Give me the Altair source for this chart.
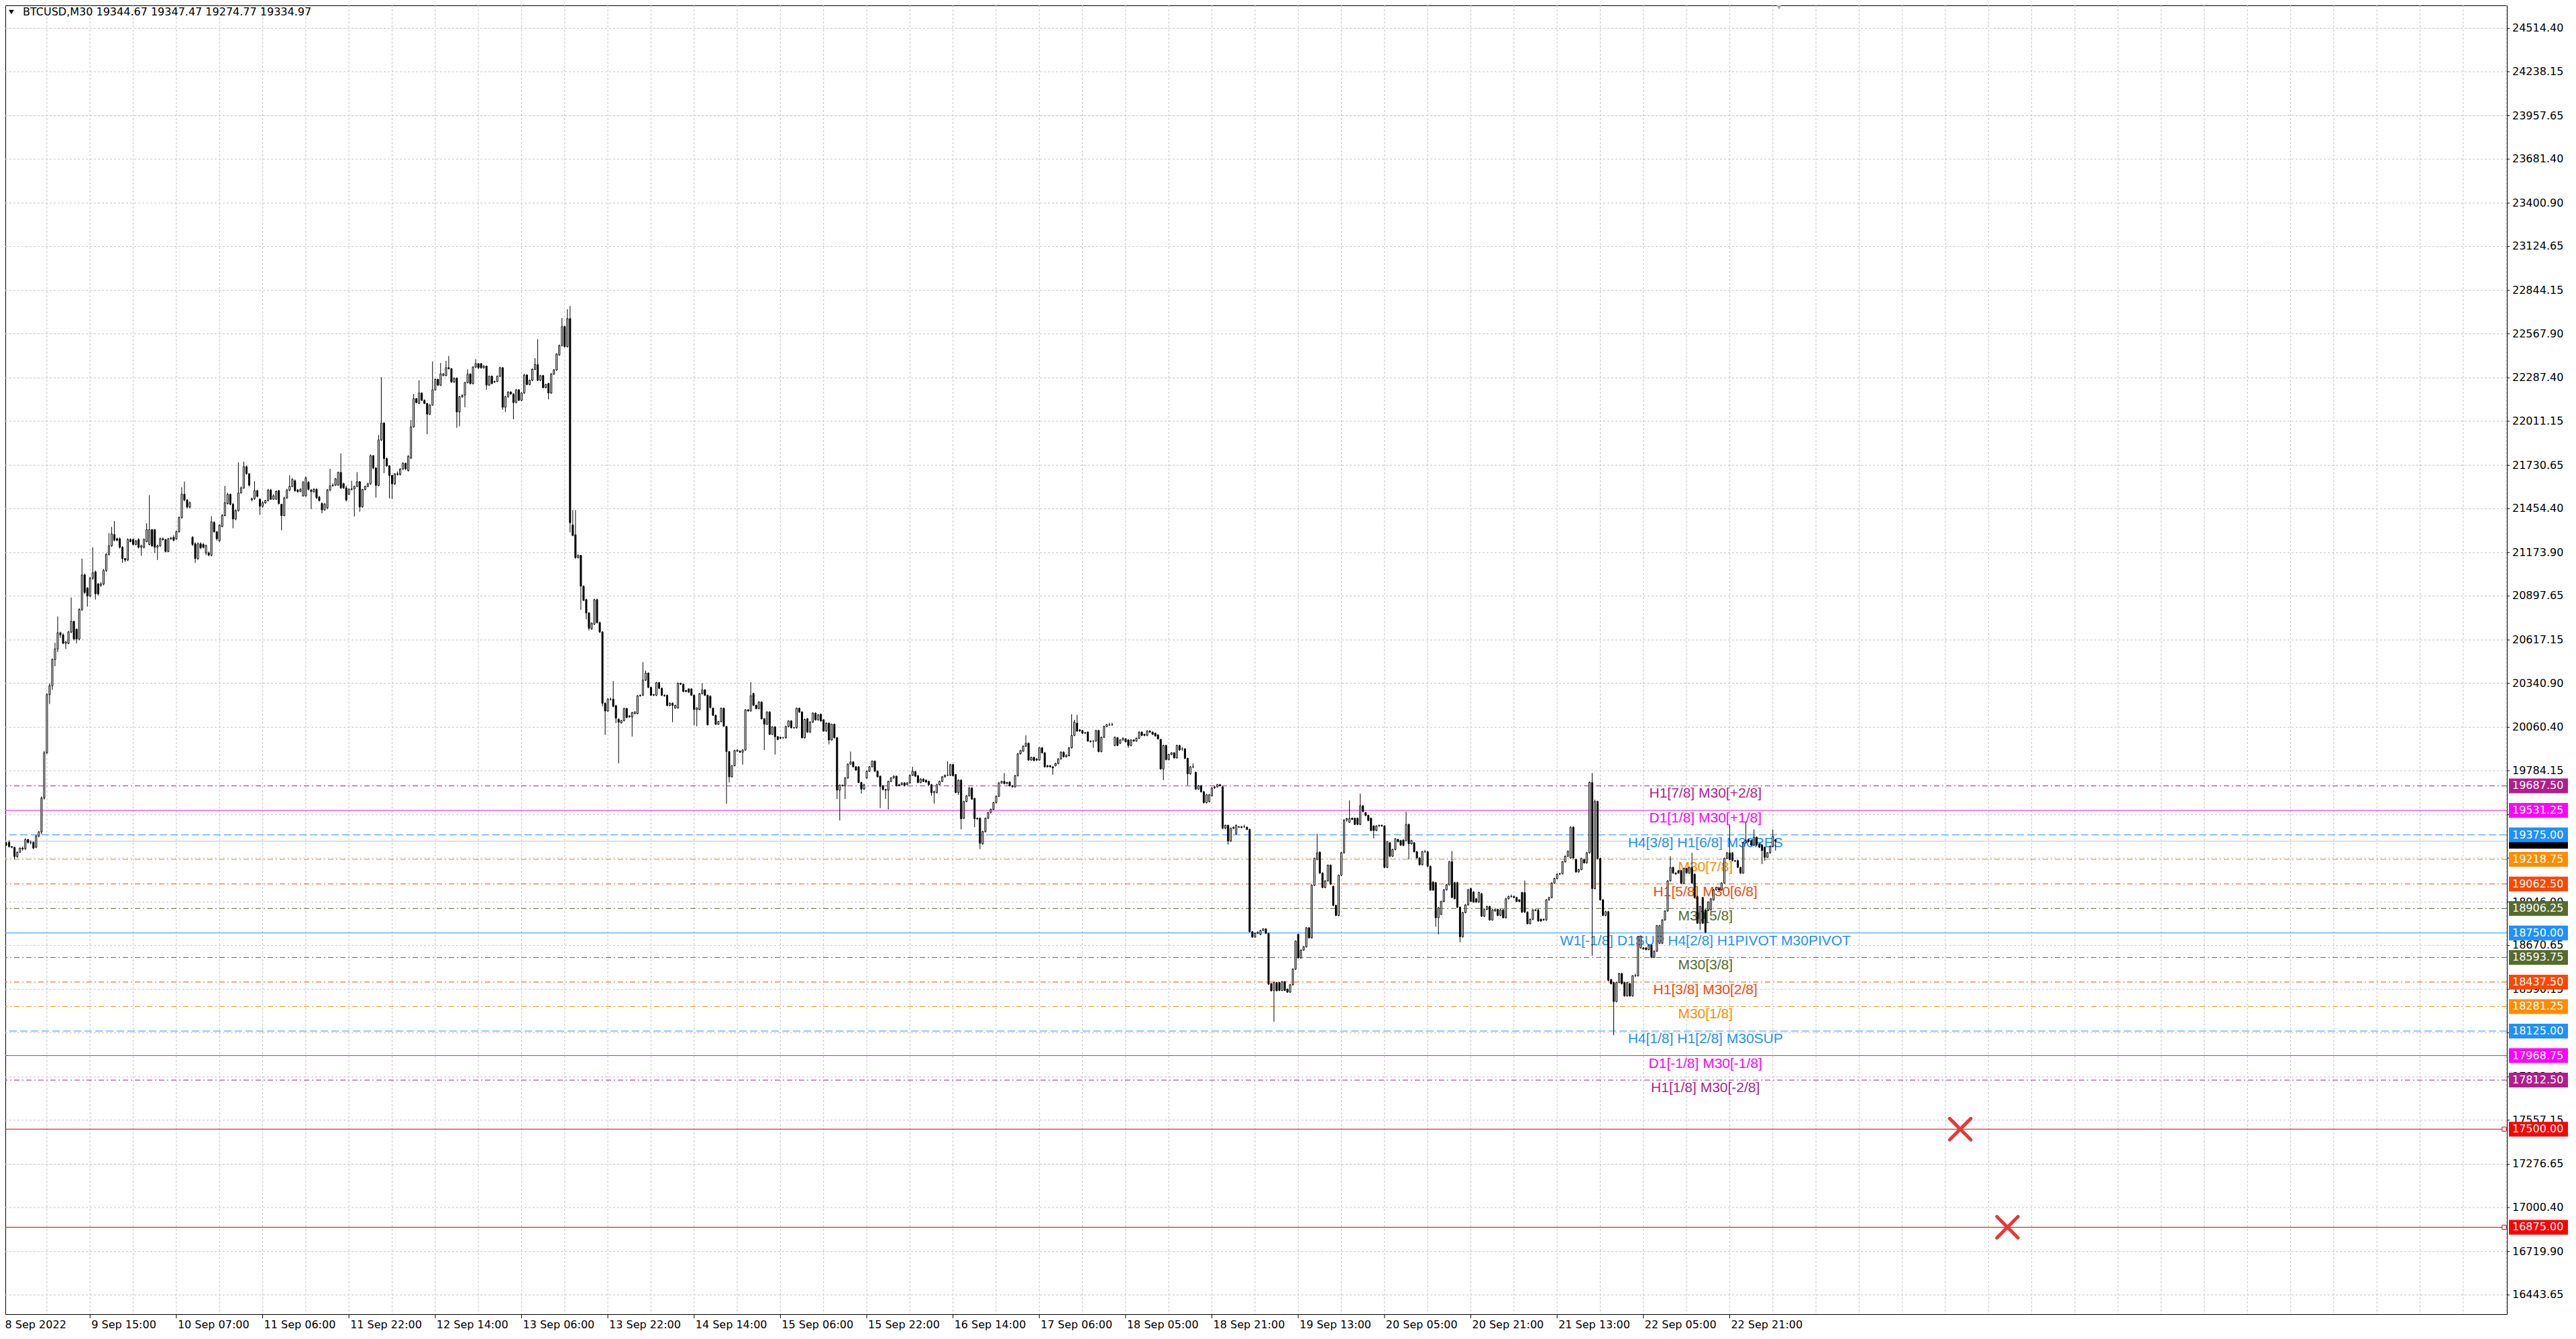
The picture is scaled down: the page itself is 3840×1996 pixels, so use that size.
import altair as alt
import pandas as pd

W, H = 3729, 1951
X_DOMAIN = [0.597, 928.2]
Y_DOMAIN = [16321.0, 24661.0]

title_text = "BTCUSD,M30  19344.67 19347.47 19274.77 19334.97"

# 30-minute bars, rows are (open, close, high, low)
bars_a = [
(19300,19318,19330,19295),(19318,19315,19330,19305),(19327,19300,19340,19295),(19300,19296,19305,19290),
(19296,19237,19300,19219),(19237,19264,19270,19230),(19264,19291,19295,19260),(19291,19286,19300,19275),
(19286,19345,19354,19280),(19345,19327,19350,19320),(19327,19327,19340,19315),(19327,19291,19335,19285),
(19296,19368,19375,19290),(19368,19394,19400,19360),(19394,19610,19620,19380),(19610,19899,19910,19600),
(19899,20268,20280,19890),(20268,20326,20340,20209),(20326,20492,20500,20300),(20492,20560,20600,20450),
(20560,20663,20767,20540),(20663,20650,20670,20630),(20650,20596,20660,20590),(20596,20605,20610,20560),
(20596,20668,20675,20590),(20668,20735,20888,20660),(20735,20623,20740,20615),(20686,20623,20690,20596),
(20623,20812,20820,20615),(20812,21032,21136,20800),(21032,20920,21040,20910),(20947,20897,20955,20830),
(20897,21010,21020,20890),(21010,21046,21208,21000),(21051,20911,21060,20875),(20974,20911,20980,20900),
(20965,20974,20985,20955),(20974,21060,21070,20965),(21060,21163,21170,21050),(21163,21217,21298,21155),
(21217,21293,21338,21210),(21289,21253,21375,21245),(21262,21253,21270,21245),(21262,21208,21270,21200),
(21208,21136,21215,21109),(21136,21127,21140,21115),(21127,21257,21265,21120),(21257,21244,21265,21240),
(21257,21226,21265,21220),(21226,21248,21255,21220),(21257,21208,21265,21200),(21208,21217,21225,21154),
(21208,21257,21265,21200),(21244,21320,21361,21240),(21226,21320,21539,21220),(21320,21217,21325,21210),
(21320,21208,21325,21172),(21208,21217,21225,21127),(21217,21262,21270,21210),(21262,21257,21270,21250),
(21257,21181,21262,21175),(21181,21262,21268,21178),(21262,21266,21275,21255),(21271,21253,21285,21245),
(21262,21307,21315,21255),(21307,21397,21405,21300),(21397,21546,21590,21390),(21546,21509,21626,21500),
(21509,21464,21515,21455),(21464,21491,21500,21455),(21271,21226,21280,21215),(21230,21136,21240,21109),
(21136,21230,21240,21127),(21230,21204,21240,21195),(21226,21208,21235,21200),(21172,21219,21225,21158),
(21172,21158,21180,21150),(21158,21370,21406,21150),(21366,21307,21375,21300),(21307,21262,21310,21250),
(21250,21348,21355,21240),(21340,21410,21420,21335),(21410,21491,21599,21405),(21487,21545,21555,21480),
(21545,21482,21550,21475),(21482,21388,21490,21329),(21388,21442,21450,21380),(21442,21554,21748,21435),
(21554,21586,21595,21550),(21586,21721,21753,21580),(21721,21676,21730,21670),(21676,21604,21680,21595),
(21510,21518,21525,21500),(21518,21568,21629,21510),(21568,21532,21575,21525),(21514,21469,21520,21415),
(21469,21491,21500,21460),(21491,21505,21510,21485),(21505,21572,21580,21500),(21572,21514,21580,21510),
(21514,21536,21545,21510),(21514,21564,21570,21510),(21568,21487,21575,21480),(21482,21410,21485,21316),
(21410,21523,21530,21405),(21523,21572,21580,21515),(21572,21595,21667,21565),(21595,21640,21650,21590),
(21631,21568,21640,21560),(21572,21563,21580,21555),(21563,21577,21585,21560),(21536,21622,21630,21530),
(21536,21649,21660,21530),(21622,21577,21630,21570),(21572,21563,21580,21451),(21563,21577,21585,21555),
(21577,21523,21585,21515),(21528,21505,21535,21500),(21487,21446,21495,21424),(21446,21482,21490,21440),
(21460,21572,21580,21450),(21572,21599,21708,21565),(21599,21604,21615,21595),(21604,21644,21650,21598),
(21604,21685,21690,21600),(21685,21586,21806,21580),(21613,21586,21620,21580),(21586,21509,21600,21500),
]
bars_b = [
(21545,21576,21585,21540),(21576,21580,21632,21570),(21580,21596,21600,21404),(21596,21626,21687,21590),
(21626,21465,21630,21434),(21465,21576,21580,21460),(21576,21596,21600,21570),(21596,21612,21620,21590),
(21612,21791,21800,21605),(21791,21713,21795,21705),(21713,21602,21718,21525),(21602,21892,21923,21598),
(21892,21999,22292,21885),(21999,21773,22005,21680),(21773,21727,21780,21720),(21727,21666,21730,21519),
(21666,21612,21670,21515),(21612,21676,21680,21605),(21676,21672,21690,21665),(21672,21707,21712,21665),
(21707,21743,21750,21700),(21743,21707,21748,21700),(21697,21787,21795,21690),(21777,21975,22019,21770),
(21975,22155,22185,21970),(22155,22130,22160,22125),(22124,22191,22272,22120),(22191,22144,22195,22140),
(22144,22124,22150,22120),(22124,22056,22128,21929),(22056,22114,22120,22050),(22114,22211,22392,22110),
(22211,22278,22285,22205),(22278,22241,22282,22235),(22241,22312,22382,22235),(22302,22312,22318,22298),
(22302,22352,22396,22298),(22352,22346,22427,22340),(22346,22261,22350,22255),(22261,22286,22290,22255),
(22286,22070,22290,21969),(22070,22167,22172,21979),(22167,22177,22182,22160),(22177,22257,22262,22100),
(22257,22312,22342,22252),(22312,22251,22316,22245),(22251,22356,22362,22245),(22356,22378,22407,22350),
(22378,22352,22382,22345),(22378,22352,22382,22345),(22352,22362,22370,22346),(22362,22241,22366,22211),
(22241,22298,22302,22236),(22298,22251,22302,22246),(22261,22265,22270,22255),(22265,22298,22302,22260),
(22298,22352,22358,22292),(22352,22100,22356,22084),(22100,22167,22172,22070),(22167,22197,22202,22160),
(22197,22185,22202,22180),(22185,22130,22190,22023),(22130,22211,22216,22125),(22211,22144,22216,22140),
(22144,22191,22196,22140),(22191,22306,22312,22185),(22306,22245,22310,22240),(22245,22272,22276,22240),
(22272,22342,22348,22266),(22342,22372,22413,22336),(22372,22272,22534,22266),(22272,22302,22306,22266),
(22302,22225,22306,22220),(22225,22245,22250,22220),(22251,22191,22256,22150),(22191,22312,22318,22186),
(22312,22338,22344,22306),(22338,22439,22445,22332),(22433,22493,22500,22428),(22493,22614,22669,22488),
(22614,22487,22620,22480),(22487,22665,22725,22480),(22665,21364,22745,21303),(21350,21283,21445,21278),
(21287,21142,21445,21135),(21142,21156,21162,21136),(21156,20960,21160,20809),(20960,20870,20965,20865),
(20874,20789,20880,20749),(20789,20692,20795,20678),(20688,20724,20730,20682),(20718,20874,20880,20712),
(20874,20728,20880,20722),(20728,20668,20734,20662),(20668,20214,20674,20194),(20214,20164,20220,20012),
(20164,20240,20246,20158),(20240,20240,20250,20230),(20240,20194,20355,20188),(20198,20119,20204,20087),
(20113,20093,20118,19831),(20089,20103,20108,20084),(20103,20180,20186,20098),(20180,20123,20186,20118),
(20127,20133,20138,20122),(20127,20154,20160,20002),(20148,20158,20163,20143),(20148,20261,20266,20143),
(20261,20265,20270,20256),(20265,20361,20476,20260),(20361,20406,20422,20356),(20406,20315,20411,20310),
(20315,20265,20320,20260),(20265,20269,20274,20260),(20265,20345,20350,20260),(20345,20309,20350,20304),
(20309,20265,20314,20260),(20265,20261,20270,20256),(20265,20200,20270,20195),(20200,20214,20220,20195),
(20214,20200,20220,20093),(20184,20200,20205,20179),(20184,20341,20346,20179),(20341,20335,20346,20330),
(20335,20289,20340,20284),(20295,20289,20300,20284),(20305,20285,20310,20280),(20305,20265,20310,20260),
(20265,20174,20270,20073),(20174,20184,20189,20067),(20174,20275,20280,20169),(20275,20299,20341,20270),
(20299,20265,20304,20260),(20265,20077,20270,20072),
]
bars_c = [
(20258,20187,20265,20180),(20182,20137,20187,20132),(20137,20080,20142,20075),(20080,20097,20102,20075),
(20097,20182,20187,20092),(20182,20068,20187,20063),(20066,19906,20070,19574),(19906,19745,19910,19709),
(19745,19816,19820,19740),(19816,19912,19917,19811),(19909,19916,19921,19904),(19909,19902,19914,19897),
(19902,19916,19921,19823),(19916,20172,20177,19911),(20172,20165,20177,20160),(20165,20262,20348,20160),
(20276,20201,20281,20196),(20201,20180,20206,20175),(20180,20222,20227,20175),(20222,20115,20227,20110),
(20115,20080,20120,19916),(20080,20158,20163,20075),(20158,20016,20163,20011),(20016,20063,20068,20011),
(20063,20001,20068,19887),(20001,19983,20006,19978),(19997,19991,20002,19986),(19994,19994,19999,19989),
(19994,20066,20071,19989),(20066,20101,20106,20061),(20101,20058,20106,20053),(20058,20058,20063,20053),
(20058,20182,20187,20053),(20182,20158,20187,20153),(20158,19994,20163,19989),(19994,20111,20116,19989),
(20115,20030,20120,20025),(20030,20094,20099,20025),(20094,20151,20156,20089),(20151,20108,20156,20103),
(20108,20140,20145,20103),(20144,20101,20149,20096),(20108,20037,20113,20032),(20037,20087,20092,20032),
(20087,19980,20092,19952),(19980,20080,20085,19975),(20080,19994,20085,19989),(19994,19660,19999,19603),
(19660,19692,19697,19467),(19692,19688,19697,19683),(19688,19738,19743,19603),(19738,19826,19831,19733),
(19826,19840,19906,19821),(19840,19809,19845,19804),(19809,19788,19814,19783),(19809,19709,19814,19704),
(19709,19667,19714,19638),(19667,19695,19700,19662),(19738,19781,19786,19733),(19781,19809,19814,19776),
(19809,19845,19850,19804),(19845,19781,19850,19776),(19781,19745,19786,19740),(19749,19684,19754,19546),
(19688,19664,19693,19659),(19664,19660,19669,19603),(19660,19716,19721,19538),(19716,19738,19743,19711),
(19738,19749,19754,19733),(19749,19688,19754,19683),(19695,19691,19700,19686),(19695,19706,19711,19690),
(19706,19688,19711,19683),(19695,19706,19711,19690),(19706,19755,19760,19701),(19755,19781,19809,19750),
(19778,19749,19783,19744),(19752,19709,19757,19704),(19709,19731,19736,19704),(19731,19716,19736,19711),
(19724,19712,19729,19707),(19716,19695,19721,19690),(19695,19645,19700,19624),(19645,19652,19657,19574),
(19645,19695,19700,19640),(19695,19716,19721,19690),(19716,19745,19750,19711),(19745,19755,19760,19740),
(19755,19755,19845,19750),(19755,19823,19828,19750),(19823,19752,19828,19747),(19759,19645,19764,19640),
(19645,19724,19729,19630),(19724,19478,19729,19410),(19481,19588,19593,19476),(19588,19624,19629,19583),
(19624,19674,19679,19619),(19674,19603,19679,19598),(19607,19478,19612,19424),(19481,19477,19486,19472),
(19481,19322,19486,19285),(19318,19396,19401,19313),(19396,19481,19486,19391),(19481,19517,19522,19476),
(19517,19538,19543,19512),(19538,19581,19586,19533),(19581,19621,19626,19576),(19621,19706,19711,19616),
(19706,19716,19721,19701),(19716,19702,19769,19697),(19702,19709,19714,19697),(19712,19688,19717,19683),
(19688,19681,19693,19676),(19681,19752,19757,19676),(19752,19892,19897,19747),(19892,19912,19917,19887),
(19909,19940,19945,19904),(19940,19959,20009,19935),(19959,19852,19964,19847),(19852,19869,19874,19847),
(19869,19849,19874,19844),(19859,19852,19864,19845),(19852,19930,19935,19847),(19930,19898,19935,19893),
(19898,19809,19903,19804),(19816,19809,19821,19804),(19816,19809,19821,19804),(19809,19802,19814,19759),
(19816,19830,19835,19811),(19830,19859,19864,19825),(19859,19902,19907,19854),(19902,19873,19907,19868),
(19873,19883,19888,19868),(19880,19930,19935,19875),(19930,20009,20144,19925),
]
bars_d = [
(20009,20094,20108,20004),(20087,20037,20140,20032),(20044,20037,20049,20032),(20040,20023,20045,20018),
(20023,20026,20031,20018),(20030,19973,20035,19968),(19973,19969,19978,19964),(19973,19973,19978,19930),
(19973,20040,20045,19968),(20040,19906,20045,19901),(19906,19997,20002,19901),(19997,20066,20071,19992),
(20066,20077,20082,20061),(20077,20077,20090,20070),(20077,20077,20090,20070),(19945,19997,20002,19940),
(19994,19945,19999,19940),(19959,19980,19985,19954),(19980,19991,19996,19975),(19987,19969,19992,19964),
(19980,19945,19985,19930),(19945,19980,19985,19940),(19980,19973,19985,19968),(19973,19991,19996,19968),
(19991,20030,20035,19986),(20030,20009,20035,20004),(20016,20009,20021,20004),(20009,20037,20042,20004),
(20037,20030,20042,20025),(20030,20016,20035,20011),(20023,20006,20028,20001),(20012,19987,20017,19982),
(19983,19795,19988,19790),(19795,19945,19950,19724),(19945,19855,19950,19850),(19855,19888,19893,19850),
(19888,19898,19903,19883),(19898,19866,19903,19861),(19866,19945,19950,19861),(19945,19916,19950,19911),
(19923,19923,19935,19910),(19923,19863,19928,19858),(19863,19764,19868,19692),(19764,19809,19814,19759),
(19809,19809,19830,19800),(19774,19667,19779,19662),(19667,19688,19693,19662),(19688,19650,19693,19645),
(19650,19581,19655,19576),(19581,19631,19636,19576),(19588,19631,19636,19583),(19624,19674,19679,19619),
(19674,19681,19686,19669),(19681,19695,19700,19676),(19695,19688,19700,19683),(19681,19417,19686,19412),
(19417,19436,19441,19412),(19436,19336,19441,19313),(19336,19417,19422,19331),(19417,19424,19429,19412),
(19382,19436,19441,19377),(19424,19427,19432,19419),(19427,19422,19432,19417),(19427,19427,19440,19420),
(19424,19410,19429,19405),(19410,18758,19415,18753),(18758,18724,18763,18719),(18724,18748,18753,18719),
(18748,18755,18760,18743),(18741,18766,18771,18736),(18766,18776,18781,18761),(18776,18748,18781,18743),
(18748,18424,18753,18419),(18427,18382,18432,18377),(18384,18434,18439,18185),(18434,18382,18439,18377),
(18434,18384,18439,18379),(18384,18439,18444,18379),(18439,18384,18444,18379),(18392,18373,18397,18368),
(18373,18420,18425,18368),(18420,18520,18525,18415),(18520,18698,18703,18515),(18741,18591,18746,18586),
(18591,18641,18646,18586),(18641,18662,18667,18636),(18662,18783,18788,18657),(18783,18719,18788,18714),
(18719,19054,19060,18714),(19054,19225,19230,19049),(19218,19261,19382,19213),(19265,19132,19270,19127),
(19132,19040,19137,19035),(19040,19082,19087,19035),(19082,19182,19187,19077),(19182,19061,19187,19056),
(19047,18926,19052,18921),(18926,18862,18931,18857),(18862,19118,19123,18857),(19118,19261,19266,19113),
(19261,19470,19475,19256),(19470,19479,19484,19460),(19456,19479,19595,19451),(19481,19474,19486,19469),
(19481,19442,19486,19437),(19481,19442,19486,19437),(19442,19560,19638,19437),(19560,19524,19565,19519),
(19517,19499,19522,19494),(19499,19467,19504,19462),(19481,19403,19486,19398),(19432,19403,19437,19353),
(19403,19432,19437,19398),(19432,19436,19441,19427),(19436,19432,19441,19427),(19432,19168,19437,19163),
(19168,19332,19337,19163),(19325,19239,19330,19234),(19239,19282,19287,19234),(19282,19350,19355,19277),
(19346,19332,19351,19327),(19339,19310,19344,19305),(19342,19308,19347,19303),(19339,19442,19524,19334),
(19442,19318,19447,19218),(19318,19339,19344,19313),(19325,19268,19330,19263),(19268,19228,19273,19223),
(19228,19185,19233,19180),(19185,19268,19273,19180),(19268,19268,19280,19260),(19268,19175,19273,19170),
]
bars_e = [
(19175,19023,19180,19018),(19075,19023,19080,19018),(19071,18847,19076,18790),(18847,18911,18916,18741),
(18869,18951,18956,18864),(18951,19025,19030,18946),(19025,19057,19062,19020),(19057,19204,19209,19052),
(19204,18976,19272,18971),(19071,18968,19076,18963),(19071,18914,19076,18909),(18914,18726,18919,18691),
(18726,18880,18885,18721),(18880,18929,18934,18875),(18929,19025,19030,18924),(19033,18951,19038,18946),
(19011,18947,19016,18942),(18968,18947,18973,18942),(18947,19008,19013,18942),(19000,18857,19005,18852),
(18857,18900,18905,18852),(18900,18919,18924,18895),(18919,18833,18924,18828),(18833,18897,18902,18828),
(18890,18900,18905,18885),(18900,18862,18905,18857),(18862,18897,18902,18857),(18897,18847,18902,18842),
(18847,18968,18973,18842),(18968,18983,18988,18963),(18983,18983,18995,18975),(18983,18976,18988,18971),
(18976,18951,18981,18946),(18961,18951,18966,18946),(19008,18883,19013,18878),(19008,18883,19085,18878),
(18883,18809,18888,18804),(18809,18837,18842,18804),(18837,18897,18902,18832),(18897,18894,18902,18889),
(18897,18826,18902,18821),(18837,18826,18842,18821),(18833,18837,18842,18828),(18833,18961,18966,18828),
(18961,18976,18981,18956),(18976,19068,19073,18971),(19068,19097,19102,19063),(19097,19125,19130,19092),
(19125,19128,19133,19120),(19128,19204,19209,19123),(19204,19239,19244,19199),(19239,19271,19276,19234),
(19228,19424,19430,19223),(19424,19228,19430,19223),(19218,19139,19223,19134),(19139,19154,19159,19134),
(19154,19225,19230,19149),(19218,19197,19223,19192),(19197,19261,19266,19192),(19261,19709,19715,19256),
(19709,19033,19769,18605),(19033,19588,19600,19028),(19588,19225,19593,19220),(19225,18961,19230,18956),
(18961,18862,18966,18857),(18862,18886,18891,18857),(18886,18448,18891,18443),(18453,18427,18458,18422),
(18434,18313,18439,18099),(18313,18434,18439,18308),(18434,18491,18496,18429),(18491,18427,18496,18422),
(18434,18349,18439,18344),(18349,18434,18439,18344),(18427,18349,18432,18344),(18349,18477,18482,18344),
(18477,18477,18490,18470),(18477,18726,18731,18472),(18655,18729,18734,18650),(18655,18648,18660,18643),
(18655,18644,18660,18639),(18644,18672,18677,18639),(18672,18595,18677,18590),(18595,18634,18639,18590),
(18634,18797,18802,18629),(18684,18797,18802,18679),(18684,18833,18838,18679),(18833,18890,18895,18828),
(18890,19082,19087,18885),(19082,19168,19239,19077),(19168,19132,19173,19127),(19132,19125,19137,19120),
(19147,19132,19152,19127),(19147,19068,19152,19063),(19068,19161,19166,19063),(19161,19132,19166,19127),
(19132,19168,19173,19127),(19168,19068,19261,19063),(19125,18976,19130,18971),(18983,18812,18988,18807),
(18812,18919,18924,18769),(18976,18812,18981,18807),(18897,18755,18902,18750),(18897,18947,18952,18892),
(18897,18968,18973,18892),(18961,19025,19030,18956),(19025,19040,19045,19020),(19033,19025,19038,19020),
(19025,19068,19073,19020),(19068,19225,19230,19063),(19225,19261,19266,19220),(19261,19218,19439,19213),
(19261,19211,19266,19206),(19211,19208,19216,19203),(19211,19168,19216,19163),(19168,19132,19173,19127),
(19132,19325,19330,19127),(19325,19339,19460,19320),(19346,19332,19351,19327),(19339,19310,19344,19305),
(19310,19360,19410,19305),(19360,19310,19365,19305),(19317,19296,19322,19291),(19310,19275,19315,19189),
(19296,19232,19301,19211),(19232,19261,19266,19227),(19261,19303,19308,19256),(19303,19365,19410,19298),
(19344.67,19334.97,19347.47,19274.77),
]

price_ticks = [24514.40, 24238.15, 23957.65, 23681.40, 23400.90, 23124.65, 22844.15, 22567.90,
               22287.40, 22011.15, 21730.65, 21454.40, 21173.90, 20897.65, 20617.15, 20340.90,
               20060.40, 19784.15, 19503.65, 19227.40, 18946.90, 18670.65, 18390.15, 18113.90,
               17833.40, 17557.15, 17276.65, 17000.40, 16719.90, 16443.65]
time_labels = ["8 Sep 2022", "9 Sep 15:00", "10 Sep 07:00", "11 Sep 06:00", "11 Sep 22:00",
               "12 Sep 14:00", "13 Sep 06:00", "13 Sep 22:00", "14 Sep 14:00", "15 Sep 06:00",
               "15 Sep 22:00", "16 Sep 14:00", "17 Sep 06:00", "18 Sep 05:00", "18 Sep 21:00",
               "19 Sep 13:00", "20 Sep 05:00", "20 Sep 21:00", "21 Sep 13:00", "22 Sep 05:00",
               "22 Sep 21:00"]
bars_per_label = 32
bars_per_grid = 16

level_prices = [19687.50, 19531.25, 19375.00, 19218.75, 19062.50, 18906.25, 18750.00,
                18593.75, 18437.50, 18281.25, 18125.00, 17968.75, 17812.50]
level_names = ["H1[7/8] M30[+2/8]", "D1[1/8] M30[+1/8]", "H4[3/8] H1[6/8] M30RES", "M30[7/8]",
               "H1[5/8] M30[6/8]", "M30[5/8]", "W1[-1/8] D1SUP H4[2/8] H1PIVOT M30PIVOT",
               "M30[3/8]", "H1[3/8] M30[2/8]", "M30[1/8]", "H4[1/8] H1[2/8] M30SUP",
               "D1[-1/8] M30[-1/8]", "H1[1/8] M30[-2/8]"]
PURPLE, MAGENTA, BLUE, ORANGE, ORED, OLIVE = "#B01E8C", "#FF00FF", "#1E90FF", "#FF8C00", "#FF4500", "#556B2F"
level_colors = [PURPLE, MAGENTA, BLUE, ORANGE, ORED, OLIVE, BLUE, OLIVE, ORED, ORANGE, BLUE, MAGENTA, PURPLE]
level_styles = ["dashdot", "solid", "dash", "dashdot", "dashdot", "dashdot", "solid",
                "dashdot", "dashdot", "dashdot", "dash", "solid", "dashdot"]
label_bar = 631

stop_prices = [17500.00, 16875.00]
stop_mark_bars = [725.5, 743.0]
bid_price = 19334.97
shift_bar = 658.3

# ---------------- frames ----------------
rows = bars_a + bars_b + bars_c + bars_d + bars_e
cd = pd.DataFrame(rows, columns=["o", "c", "h", "l"])
cd["i"] = range(len(cd))
cd["xl"] = cd["i"] - 0.25
cd["xr"] = cd["i"] + 0.25
cd["fill"] = ["#FFFFFF" if c >= o else "#000000" for o, c in zip(cd["o"], cd["c"])]

xs = alt.Scale(domain=X_DOMAIN, nice=False, zero=False)
ys = alt.Scale(domain=Y_DOMAIN, nice=False, zero=False)
def X(f): return alt.X(f, scale=xs, axis=None)
def Y(f): return alt.Y(f, scale=ys, axis=None)

tag_prices = level_prices + stop_prices
ticks_df = pd.DataFrame({"p": price_ticks})
# axis labels that sit completely under a coloured price tag are not drawn
lab_df = pd.DataFrame({"p": [v for v in price_ticks if min(abs(v - t) for t in tag_prices) > 20]})
lab_df["t"] = [f"{v:.2f}" for v in lab_df["p"]]
grid_df = pd.DataFrame({"b": list(range(bars_per_grid, int(X_DOMAIN[1]) + 1, bars_per_grid))})
tl_df = pd.DataFrame({"b": [k * bars_per_label for k in range(len(time_labels))], "t": time_labels})
lv = pd.DataFrame({"p": level_prices, "name": level_names, "color": level_colors,
                   "style": level_styles, "lb": [label_bar] * len(level_prices)})
stops = pd.DataFrame({"p": stop_prices, "b": stop_mark_bars})
tags = pd.DataFrame({"p": tag_prices, "color": level_colors + ["#FF0000", "#FF0000"]})
tags["t"] = [f"{v:.2f}" for v in tags["p"]]
bid = pd.DataFrame({"p": [bid_price]})
one = pd.DataFrame({"t": [title_text]})

GRID = "#C4C4C4"
hgrid = alt.Chart(ticks_df).mark_rule(color=GRID, strokeDash=[3, 3], strokeWidth=1).encode(y=Y("p:Q"))
vgrid = alt.Chart(grid_df).mark_rule(color=GRID, strokeDash=[3, 3], strokeWidth=1).encode(x=X("b:Q"))

lvl_lines = alt.Chart(lv).mark_rule(strokeWidth=1).encode(
    y=Y("p:Q"),
    color=alt.Color("color:N", scale=None),
    strokeDash=alt.StrokeDash("style:N", legend=None,
                              scale=alt.Scale(domain=["solid", "dash", "dashdot"],
                                              range=[[1, 0], [11, 5], [8, 4, 2, 4]])),
)
stop_lines = alt.Chart(stops).mark_rule(color="#C80000", strokeWidth=1).encode(y=Y("p:Q"))
stop_sq = alt.Chart(stops).mark_point(shape="square", size=40, filled=True, fill="white",
                                      stroke="#C80000", strokeWidth=1, opacity=1).encode(
    y=Y("p:Q"), x=alt.value(W - 4))
bid_line = alt.Chart(bid).mark_rule(color="#C0C0C0", strokeWidth=1).encode(y=Y("p:Q"))

lvl_text = alt.Chart(lv).mark_text(font="Liberation Sans", fontSize=21, align="center",
                                   baseline="middle", dy=12).encode(
    x=X("lb:Q"), y=Y("p:Q"), text="name:N", color=alt.Color("color:N", scale=None))

wicks = alt.Chart(cd).mark_rule(color="black", strokeWidth=1).encode(
    x=X("i:Q"), y=Y("l:Q"), y2="h:Q")
bodies = alt.Chart(cd).mark_rect(stroke="black", strokeWidth=1).encode(
    x=X("xl:Q"), x2="xr:Q", y=Y("o:Q"), y2="c:Q", fill=alt.Fill("fill:N", scale=None))

xmarks = alt.Chart(stops).mark_point(shape="M-1,-1L1,1M-1,1L1,-1", size=1000, filled=False,
                                     stroke="#E53935", strokeWidth=5, opacity=1,
                                     strokeCap="round").encode(x=X("b:Q"), y=Y("p:Q"))

ax_ticks = alt.Chart(ticks_df).mark_rule(color="black", strokeWidth=1).encode(
    y=Y("p:Q"), x=alt.value(W), x2=alt.value(W + 4))
ax_labels = alt.Chart(lab_df).mark_text(font="DejaVu Sans", fontSize=16, align="left",
                                        baseline="middle", color="black").encode(
    y=Y("p:Q"), x=alt.value(W + 8), text="t:N")

RECT = "M-1,-0.25H1V0.25H-1Z"
bid_tag = alt.Chart(bid).mark_point(shape=RECT, size=88 * 88, filled=True, color="black",
                                    opacity=1).encode(y=Y("p:Q"), x=alt.value(W + 47))
tag_box = alt.Chart(tags).mark_point(shape=RECT, size=88 * 88, filled=True, opacity=1,
                                     strokeWidth=0).encode(
    y=Y("p:Q"), x=alt.value(W + 47), fill=alt.Fill("color:N", scale=None))
tag_txt = alt.Chart(tags).mark_text(font="DejaVu Sans", fontSize=16, align="left",
                                    baseline="middle", color="white").encode(
    y=Y("p:Q"), x=alt.value(W + 8), text="t:N")

x_ticks = alt.Chart(tl_df).mark_rule(color="black", strokeWidth=1).encode(
    x=X("b:Q"), y=alt.value(H), y2=alt.value(H + 6))
x_labels = alt.Chart(tl_df).mark_text(font="DejaVu Sans", fontSize=16, align="left",
                                      baseline="middle", dx=2, color="black").encode(
    x=X("b:Q"), y=alt.value(H + 16), text="t:N")

title_mark = alt.Chart(one).mark_text(font="DejaVu Sans", fontSize=16, align="left",
                                      baseline="middle", color="black").encode(
    x=alt.value(26), y=alt.value(10), text="t:N")
title_tri = alt.Chart(one).mark_point(shape="triangle-down", size=60, filled=True,
                                      color="black", opacity=1).encode(
    x=alt.value(9), y=alt.value(10))
shift_tri = alt.Chart(pd.DataFrame({"b": [shift_bar]})).mark_point(
    shape="triangle-down", size=90, filled=True, color="#A8A8A8", opacity=1).encode(
    x=X("b:Q"), y=alt.value(2))

chart = alt.layer(
    hgrid, vgrid, bid_line, lvl_lines, stop_lines, lvl_text, wicks, bodies,
    xmarks, stop_sq, ax_ticks, ax_labels, bid_tag, tag_box, tag_txt,
    x_ticks, x_labels, title_tri, title_mark, shift_tri,
).properties(
    width=W, height=H,
    padding={"left": 0, "top": 0, "right": 94, "bottom": 24},
    autosize=alt.AutoSizeParams(type="none"),
    background="white",
).configure_view(stroke="black", strokeWidth=1)

chart.save("out.html", embed_options={"renderer": "svg", "actions": False})
